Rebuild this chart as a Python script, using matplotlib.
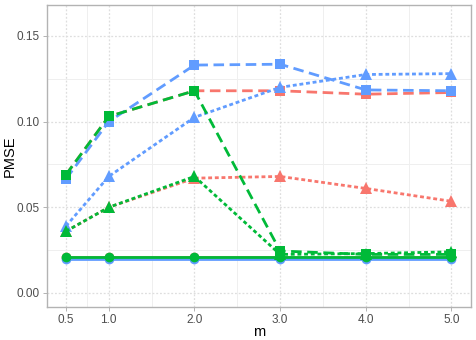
import numpy as np
import matplotlib
matplotlib.use("Agg")
import matplotlib.pyplot as plt
from matplotlib.ticker import FixedLocator

m = [0.5, 1.0, 2.0, 3.0, 4.0, 5.0]

# PMSE per method (colour) and statistic (shape / linetype)
red_circle = [0.0210, 0.0210, 0.0210, 0.0210, 0.0210, 0.0210]
red_square = [0.0690, 0.1030, 0.1180, 0.1180, 0.1160, 0.1170]
red_triangle = [0.0360, 0.0500, 0.0670, 0.0680, 0.0610, 0.0535]

blue_circle = [0.0200, 0.0200, 0.0200, 0.0200, 0.0200, 0.0200]
blue_square = [0.0665, 0.1000, 0.1330, 0.1335, 0.1185, 0.1180]
blue_triangle = [0.0390, 0.0680, 0.1025, 0.1200, 0.1275, 0.1280]

green_circle = [0.0212, 0.0212, 0.0212, 0.0212, 0.0212, 0.0212]
green_square = [0.0690, 0.1030, 0.1180, 0.0245, 0.0225, 0.0225]
green_triangle = [0.0360, 0.0500, 0.0680, 0.0225, 0.0230, 0.0240]

x_ticks = [0.5, 1.0, 2.0, 3.0, 4.0, 5.0]
x_tick_labels = ["0.5", "1.0", "2.0", "3.0", "4.0", "5.0"]
y_ticks = [0.00, 0.05, 0.10, 0.15]
y_tick_labels = ["0.00", "0.05", "0.10", "0.15"]

RED = "#F8766D"
GREEN = "#00BA38"
BLUE = "#619CFF"

plt.rcParams['font.family'] = ['Liberation Sans', 'DejaVu Sans']

fig = plt.figure(figsize=(4.76, 3.40), dpi=100)
ax = fig.add_axes([0.098, 0.098, 0.891, 0.887])

ax.set_xlim(0.275, 5.225)
ax.set_ylim(-0.008, 0.168)

# ggplot-like grid: dotted majors, faint solid minors
ax.xaxis.set_minor_locator(FixedLocator([0.75, 1.5, 2.5, 3.5, 4.5]))
ax.yaxis.set_minor_locator(FixedLocator([0.025, 0.075, 0.125]))
ax.grid(True, which="major", color="#DEDEDE", linestyle=(0, (1.5, 1.5)), linewidth=0.9)
ax.grid(True, which="minor", color="#EFEFEF", linestyle="-", linewidth=0.7)
ax.set_axisbelow(True)

lw = 2.0
styles = {
    "circle": dict(marker="o", ms=7, linestyle="-"),
    "square": dict(marker="s", ms=7.5, dashes=(3.8, 2.0)),
    "triangle": dict(marker="^", ms=8, dashes=(1.4, 1.0)),
}

series = [
    (RED, red_circle, red_square, red_triangle),
    (BLUE, blue_circle, blue_square, blue_triangle),
    (GREEN, green_circle, green_square, green_triangle),
]

for color, circ, sq, tri in series:
    for name, vals in (("circle", circ), ("square", sq), ("triangle", tri)):
        ax.plot(m, vals, color=color, linewidth=lw, markeredgewidth=0,
                **styles[name])

ax.set_xticks(x_ticks)
ax.set_xticklabels(x_tick_labels)
ax.set_yticks(y_ticks)
ax.set_yticklabels(y_tick_labels)
ax.tick_params(which="major", length=3, width=0.7, color="#B3B3B3",
               labelsize=8.5, labelcolor="#4D4D4D", pad=2)
ax.tick_params(which="minor", length=0)

for side in ax.spines.values():
    side.set_color("#B3B3B3")
    side.set_linewidth(1.0)

ax.set_xlabel("m", fontsize=10.5)
ax.xaxis.set_label_coords(0.5, -0.062)
ax.set_ylabel("PMSE", fontsize=10.5)
ax.yaxis.set_label_coords(-0.07, 0.5)

fig.savefig("out.png", dpi=100, facecolor="white")
plt.close(fig)
